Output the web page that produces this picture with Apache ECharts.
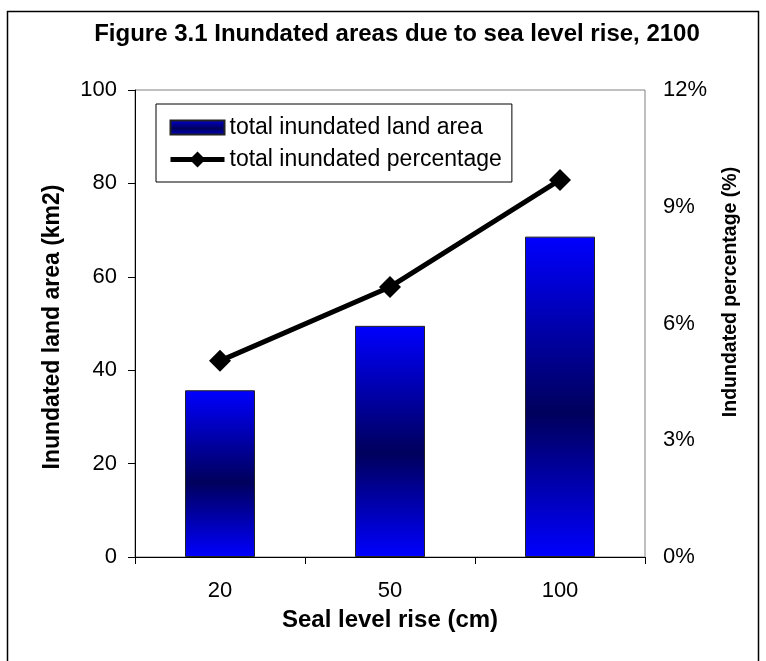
<!DOCTYPE html>
<html>
<head>
<meta charset="utf-8">
<script src="https://cdn.jsdelivr.net/npm/echarts@6/dist/echarts.min.js"></script>
<style>html,body{margin:0;padding:0;background:#fff;}#c{width:766px;height:661px;}</style>
</head>
<body>
<div id="c"></div>
<script>
const categories = ['20', '50', '100'];
const areaValues = [35.7, 49.5, 68.6];
const pctValues = [5.04, 6.94, 9.69];
const leftTicks = [0, 20, 40, 60, 80, 100];
const rightTicks = [0, 3, 6, 9, 12];

const FONT = 'Liberation Sans, Arial, sans-serif';
const chart = echarts.init(document.getElementById('c'), null, {renderer: 'canvas'});
const barGrad = new echarts.graphic.LinearGradient(0, 0, 0, 1, [
  {offset: 0, color: '#0000ff'},
  {offset: 0.55, color: '#00005c'},
  {offset: 1, color: '#0000ff'}
]);
chart.setOption({
  animation: false,
  backgroundColor: '#fff',
  textStyle: {fontFamily: FONT},
  title: {
    text: 'Figure 3.1 Inundated areas due to sea level rise, 2100',
    left: 392, top: 17, textAlign: 'center',
    textStyle: {fontFamily: FONT, fontSize: 24, fontWeight: 'bold', color: '#000'}
  },
  grid: {left: 135, right: 121, top: 90, bottom: 104, show: true, borderColor: '#808080', borderWidth: 1, backgroundColor: 'transparent'},
  legend: {
    orient: 'vertical', left: 156, top: 104,
    padding: [12, 10, 11, 12], itemGap: 9,
    itemWidth: 54, itemHeight: 20,
    borderColor: '#000', borderWidth: 1, backgroundColor: '#fff',
    textStyle: {fontFamily: FONT, fontSize: 23, color: '#000'},
    lineStyle: {width: 5},
    data: [
      {name: 'total inundated land area', icon: 'path://M0,0M0,20M0,3L54,3L54,17L0,17Z'},
      {name: 'total inundated percentage'}
    ]
  },
  xAxis: {
    type: 'category', data: categories,
    name: 'Seal level rise (cm)', nameLocation: 'middle', nameGap: 51,
    nameTextStyle: {fontFamily: FONT, fontSize: 24, fontWeight: 'bold', color: '#000'},
    axisLine: {lineStyle: {color: '#000', width: 1}},
    axisTick: {show: true, length: 7, lineStyle: {color: '#000'}},
    axisLabel: {fontFamily: FONT, fontSize: 22, color: '#000', margin: 23}
  },
  yAxis: [{
    type: 'value', min: leftTicks[0], max: leftTicks[leftTicks.length - 1], interval: 20,
    axisLine: {show: true, lineStyle: {color: '#000', width: 1}},
    axisTick: {show: true, length: 7, lineStyle: {color: '#000'}},
    axisLabel: {fontFamily: FONT, fontSize: 22, color: '#000', margin: 18},
    splitLine: {show: false}
  }, {
    type: 'value', position: 'right', min: rightTicks[0], max: rightTicks[rightTicks.length - 1], interval: 3,
    axisLine: {show: false}, axisTick: {show: false},
    axisLabel: {fontFamily: FONT, fontSize: 22, color: '#000', margin: 18, formatter: '{value}%'},
    splitLine: {show: false}
  }],
  graphic: [
    {type: 'rect', shape: {x: 7.5, y: 11.5, width: 751, height: 700}, style: {fill: 'none', stroke: '#000', lineWidth: 1.5}, z: 100},
    {type: 'text', x: 53, y: 327, rotation: Math.PI / 2,
     style: {text: 'Inundated land area (km2)', align: 'center', verticalAlign: 'middle', fontFamily: FONT, fontSize: 23, fontWeight: 'bold', fill: '#000'}},
    {type: 'text', x: 731, y: 292, rotation: Math.PI / 2,
     style: {text: 'Indundated percentage (%)', align: 'center', verticalAlign: 'middle', fontFamily: FONT, fontSize: 19.5, fontWeight: 'bold', fill: '#000'}}
  ],
  series: [{
    name: 'total inundated land area', type: 'bar', yAxisIndex: 0,
    data: areaValues, barWidth: 70,
    itemStyle: {color: barGrad, borderColor: '#222', borderWidth: 1}
  }, {
    name: 'total inundated percentage', type: 'line', yAxisIndex: 1,
    data: pctValues, symbol: 'diamond', symbolSize: 22,
    lineStyle: {color: '#000', width: 5},
    itemStyle: {color: '#000'}
  }]
});
</script>
</body>
</html>
